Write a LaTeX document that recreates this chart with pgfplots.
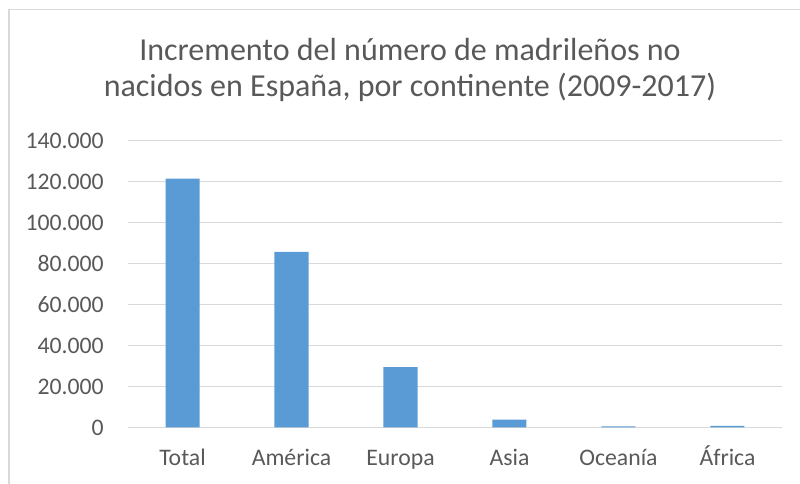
\documentclass[border=0pt]{standalone}
\usepackage{pgfplots}
\pgfplotsset{compat=1.18}
\usepackage{fontspec}
\setmainfont{Carlito}
\definecolor{barblue}{HTML}{5B9BD5}
\definecolor{gridgray}{HTML}{D9D9D9}
\definecolor{txtgray}{HTML}{595959}
\begin{document}
\begin{tikzpicture}
\useasboundingbox (0pt,0pt) rectangle (600pt,-363pt);
\draw[gridgray, line width=0.9pt] (6.75pt,-363pt) -- (6.75pt,-7.1pt) -- (600pt,-7.1pt);
\node[anchor=base, font=\fontsize{24pt}{28pt}\selectfont, text=txtgray, inner sep=0pt] at (307.5pt,-45.75pt) {Incremento del número de madrileños no};
\node[anchor=base, font=\fontsize{24pt}{28pt}\selectfont, text=txtgray, inner sep=0pt] at (307.5pt,-72.75pt) {nacidos en España, por continente (2009-2017)};
\begin{axis}[
  at={(96pt,-320.6pt)}, anchor=south west,
  scale only axis, width=490.5pt, height=215.1pt,
  xmin=-0.5, xmax=5.5, ymin=0, ymax=140000,
  scaled y ticks=false,
  axis line style={draw=none},
  major tick length=0pt,
  xtick={0,1,2,3,4,5},
  xticklabels={Total,América,Europa,Asia,Oceanía,África},
  ytick={0,20000,40000,60000,80000,100000,120000,140000},
  yticklabels={0,20.000,40.000,60.000,80.000,100.000,120.000,140.000},
  ymajorgrids, grid style={gridgray, line width=0.9pt},
  tick label style={font=\fontsize{17.8pt}{21pt}\selectfont, text=txtgray},
  yticklabel style={anchor=east, inner sep=0pt, xshift=-18pt},
  xticklabel style={anchor=base, inner sep=0pt, yshift=-28.9pt},
  ybar, bar width=25.5pt,
  clip=false,
]
\addplot[fill=barblue, draw=none] coordinates {(0,121450) (1,85700) (2,29450) (3,3800) (4,550) (5,800)};
\end{axis}
\end{tikzpicture}
\end{document}
